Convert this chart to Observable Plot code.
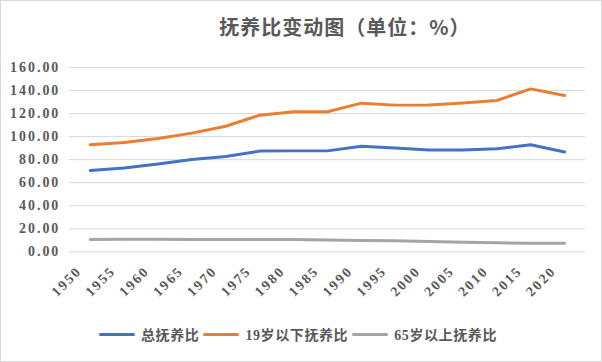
<!DOCTYPE html>
<html><head><meta charset="utf-8">
<script src="https://cdn.jsdelivr.net/npm/d3@7"></script>
<script src="https://cdn.jsdelivr.net/npm/@observablehq/plot@0.6"></script>
<style>
body{margin:0;background:#fff;}
#wrap{position:relative;width:600px;height:360px;border:1px solid #d9d9d9;background:#fff;overflow:hidden;}
#title{position:absolute;left:0;top:11px;width:600px;text-align:center;padding-left:88px;box-sizing:border-box;font-family:"Noto Sans CJK SC","Liberation Serif",serif;font-weight:bold;font-size:20px;color:#595959;letter-spacing:1px;}
#chart{position:absolute;left:0;top:50px;}
#legend{position:absolute;top:323px;left:98px;display:flex;align-items:center;font-family:"Liberation Serif","Noto Sans CJK SC",serif;font-weight:bold;font-size:14px;color:#595959;white-space:nowrap;letter-spacing:0.6px;}
.sw{display:inline-block;width:36px;height:3px;border-radius:2px;margin-right:6px;}
.it{display:flex;align-items:center;margin-right:4px;}
</style></head>
<body><div id="wrap"><div id="title">抚养比变动图（单位：%）</div><div id="chart"></div>
<div id="legend"></div></div>
<script>
const years = ["1950","1955","1960","1965","1970","1975","1980","1985","1990","1995","2000","2005","2010","2015","2020"];
const total = [70.6,72.7,76.2,80.2,82.8,87.4,87.6,87.6,91.7,90.0,88.4,88.4,89.4,92.9,86.6];
const under19 = [92.9,94.9,98.4,103.0,109.0,118.6,121.5,121.5,129.0,127.3,127.5,129.2,131.3,141.4,135.6];
const over65 = [10.6,10.9,10.9,10.6,10.6,10.7,10.7,10.3,9.8,9.7,8.9,8.3,7.8,7.5,7.4];
const seriesNames = ["总抚养比","19岁以下抚养比","65岁以上抚养比"];
const colors = ["#4472C4","#ED7D31","#A5A5A5"];
const yTicks = [0,20,40,60,80,100,120,140,160];

const data = [];
[total, under19, over65].forEach((arr, si) => arr.forEach((v, i) => data.push({year: years[i], value: v, series: seriesNames[si]})));

const font = "Liberation Serif, Noto Sans CJK SC, serif";
const plot = Plot.plot({
  width: 602, height: 256,
  marginLeft: 68, marginRight: 16, marginTop: 16, marginBottom: 55,
  style: {fontFamily: font, fontSize: "14px", fontWeight: "bold", color: "#595959", background: "transparent", letterSpacing: "2px"},
  x: {type: "point", domain: years, padding: 0.5},
  y: {domain: [0,160]},
  color: {domain: seriesNames, range: colors},
  marks: [
    Plot.ruleY(yTicks, {stroke: "#d9d9d9", strokeWidth: 1}),
    Plot.axisY({ticks: yTicks, tickFormat: d => d.toFixed(2), tickSize: 0, tickPadding: 9, fontSize: 14, fontWeight: "bold", fill: "#595959", label: null}),
    Plot.axisX({tickRotate: -45, tickSize: 0, tickPadding: 17, dx: -11, fontSize: 14, fontWeight: "bold", fill: "#595959", label: null}),
    Plot.line(data, {x: "year", y: "value", z: "series", stroke: "series", strokeWidth: 3, strokeLinejoin: "round", strokeLinecap: "round"})
  ]
});
document.getElementById("chart").appendChild(plot);

const lg = document.getElementById("legend");
seriesNames.forEach((n, i) => {
  const it = document.createElement("span"); it.className = "it";
  const sw = document.createElement("span"); sw.className = "sw"; sw.style.background = colors[i];
  it.appendChild(sw); it.appendChild(document.createTextNode(n)); lg.appendChild(it);
});
</script></body></html>
